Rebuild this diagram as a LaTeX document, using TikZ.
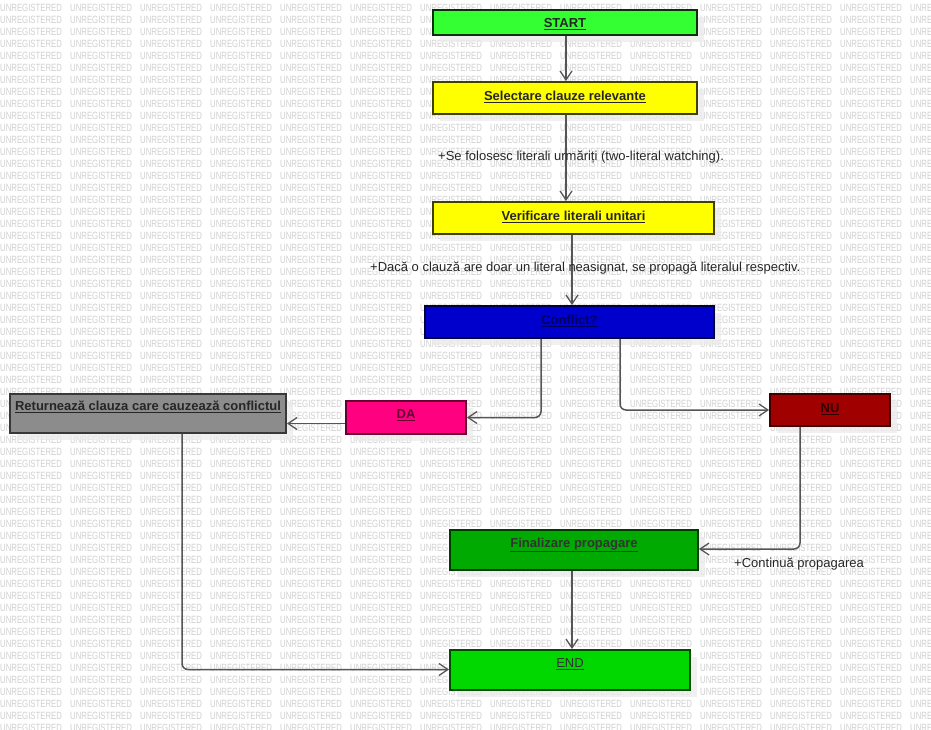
\documentclass[tikz,border=0pt]{standalone}
\usepackage{fontspec}
\setmainfont{Liberation Sans}
\usetikzlibrary{arrows.meta,calc}
\definecolor{cstart}{HTML}{33FF33}
\definecolor{cyel}{HTML}{FFFF00}
\definecolor{cblue}{HTML}{0000CC}
\definecolor{cpink}{HTML}{FF0080}
\definecolor{cred}{HTML}{A00000}
\definecolor{cgray}{HTML}{8C8C8C}
\definecolor{cfin}{HTML}{00AA00}
\definecolor{cend}{HTML}{00D800}
\definecolor{cline}{HTML}{555555}
\definecolor{cwm}{HTML}{D0D0D0}
\begin{document}
\begin{tikzpicture}[x=1pt,y=-1pt,
  wm/.style={anchor=west,inner sep=0pt,text=cwm,font=\fontsize{10.5}{10.5}\selectfont},
  box/.style={draw,line width=1.8pt,inner sep=0pt},
  shadowbox/.style={fill=black!8,fill opacity=0.75,draw=none},
  btxt/.style={inner sep=0pt,font=\fontsize{13}{13}\selectfont\bfseries},
  lbl/.style={anchor=west,inner sep=0pt,text=black!85,font=\fontsize{13}{13}\selectfont},
  conn/.style={draw=cline,line width=1.5pt,rounded corners=6pt,-{Straight Barb[length=9pt,width=12pt,line width=1.3pt]}}]
\useasboundingbox (0,0) rectangle (931,730);
\fill[white] (0,0) rectangle (931,730);
\foreach \r in {0,...,60}{
  \foreach \c in {0,...,13}{
    \node[wm] at (\c*70,8.3+\r*12) {\scalebox{0.74}[1]{UNREGISTERED}};
  }
}
% shadows
\foreach \a/\b/\c/\d in {433/10/697/35, 433/82/697/114, 433/202/714/234, 425/306/714/338,
  346/401/466/434, 770/394/890/426, 10/394/286/433, 450/530/698/570, 450/650/690/690}{
  \fill[shadowbox] (\a+7,\b+7) rectangle (\c+7,\d+7);
}
% boxes
\node[box,fill=cstart,draw=black!70!cstart!60!black,minimum width=264pt,minimum height=25pt] (start) at (565,22.5) {};
\node[btxt,text=black!85] (startt) at (565,24) {\underline{START}};
\node[box,fill=cyel,draw=black!75!cyel,minimum width=264pt,minimum height=32pt] (sel) at (565,98) {};
\node[btxt,text=black!85] (selt) at (565,97) {\underline{Selectare clauze relevante}};
\node[box,fill=cyel,draw=black!75!cyel,minimum width=281pt,minimum height=32pt] (ver) at (573.5,218) {};
\node[btxt,text=black!85] (vert) at (573.5,217) {\underline{Verificare literali unitari}};
\node[box,fill=cblue,draw=black!70!cblue,minimum width=289pt,minimum height=32pt] (conf) at (569.5,322) {};
\node[btxt,text=black!55!cblue] (conft) at (569.5,321) {\underline{Conflict?}};
\node[box,fill=cpink,draw=black!60!cpink,minimum width=120pt,minimum height=33pt] (da) at (406,417.5) {};
\node[btxt,text=black!62!cpink] (dat) at (406,415) {\underline{DA}};
\node[box,fill=cred,draw=black!60!cred,minimum width=120pt,minimum height=32pt] (nu) at (830,410) {};
\node[btxt,text=black!70!cred] (nut) at (830,409) {\underline{NU}};
\node[box,fill=cgray,draw=black!60!cgray,minimum width=276pt,minimum height=39pt] (ret) at (148,413.5) {};
\node[btxt,text=black!85] (rett) at (148,407) {\underline{Returnează clauza care cauzează conflictul}};
\node[box,fill=cfin,draw=black!65!cfin,minimum width=248pt,minimum height=40pt] (fin) at (574,550) {};
\node[btxt,text=black!80] (fint) at (574,545) {\underline{Finalizare propagare}};
\node[box,fill=cend,draw=black!65!cend,minimum width=240pt,minimum height=40pt] (end) at (570,670) {};
\node[btxt,font=\fontsize{13}{13}\selectfont,text=black!80] (endt) at (570,664) {\underline{END}};
% helper coordinates
\coordinate (cda) at (541,0);
\coordinate (cnu) at (620,0);
\coordinate (daret) at (0,423.5);
\coordinate (nufin) at (800,549);
\coordinate (retend) at (182,669.5);
\coordinate (sx) at (566,0);
\coordinate (vx) at (572,0);
\coordinate (fx) at (572,0);
% connectors
\draw[conn] (start.south -| sx) -- (sel.north -| sx);
\draw[conn] (sel.south -| sx) -- (ver.north -| sx);
\draw[conn] (ver.south -| vx) -- (conf.north -| vx);
\draw[conn] (conf.south -| cda) |- (da.east);
\draw[conn] (conf.south -| cnu) |- (nu.west);
\draw[conn] (da.west |- daret) -- (ret.east |- daret);
\draw[conn] (nu.south -| nufin) |- (fin.east |- nufin);
\draw[conn] (fin.south -| fx) -- (end.north -| fx);
\draw[conn] (ret.south -| retend) |- (end.west |- retend);
% labels
\node[lbl] (l1) at (438,157) {+Se folosesc literali urmăriți (two-literal watching).};
\node[lbl] (l2) at (370,268) {+Dacă o clauză are doar un literal neasignat, se propagă literalul respectiv.};
\node[lbl] (l3) at (734,564) {+Continuă propagarea};
\end{tikzpicture}
\end{document}
